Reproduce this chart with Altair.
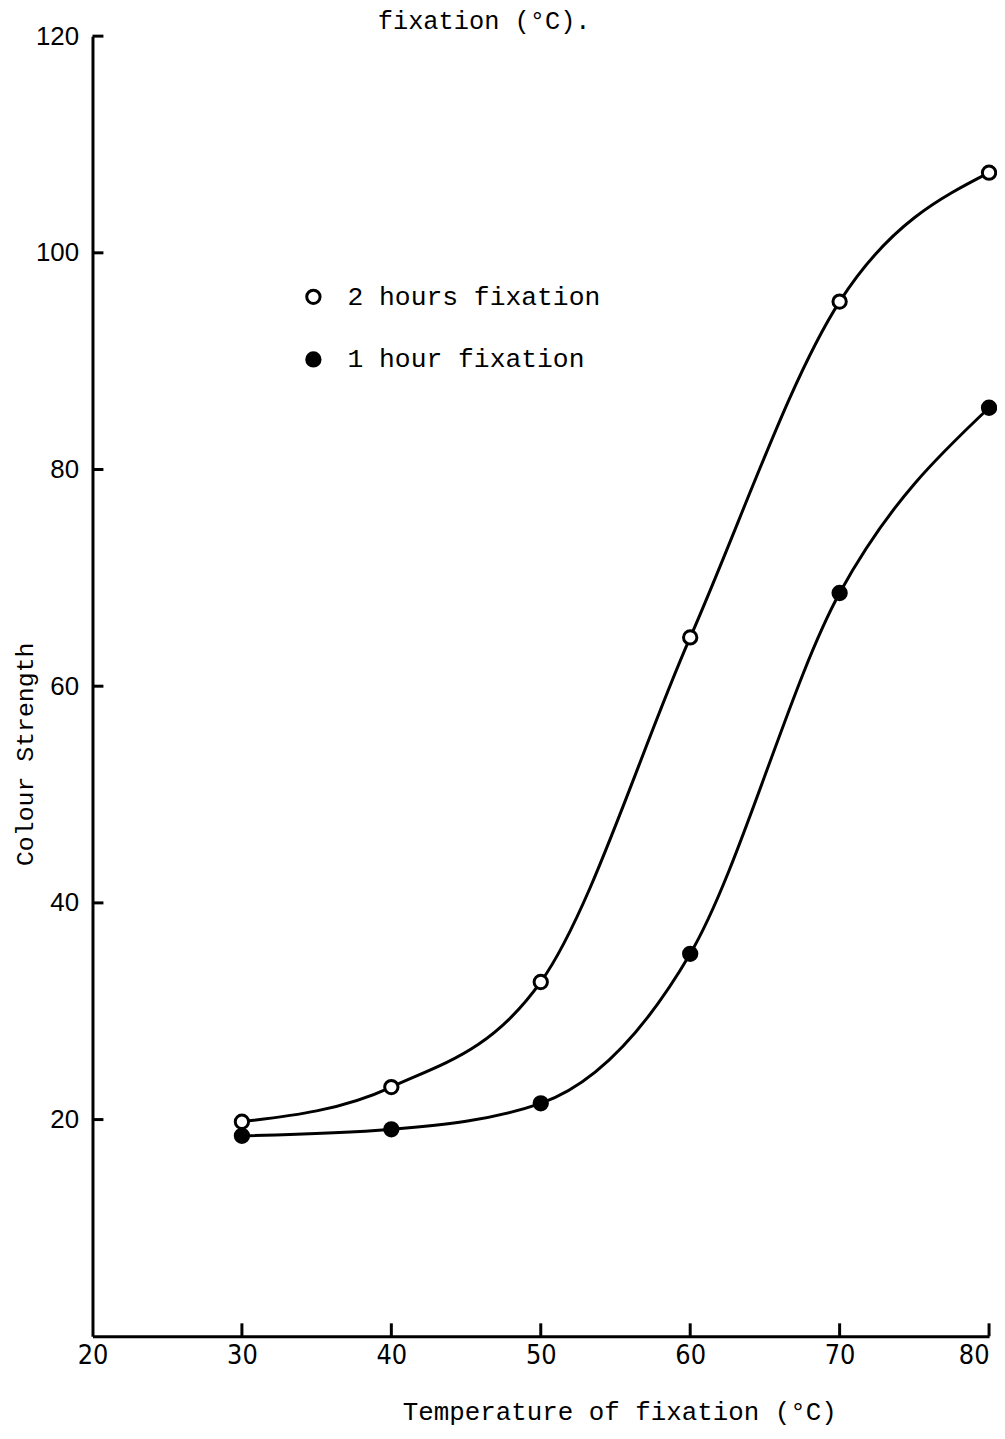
import altair as alt
import pandas as pd

# ---- data ----
temps = [30, 40, 50, 60, 70, 80]
two_hours = [19.8, 23.0, 32.7, 64.5, 95.5, 107.4]
one_hour = [18.5, 19.1, 21.5, 35.3, 68.6, 85.7]
series_names = ["2 hours fixation", "1 hour fixation"]
x_tick_labels = [20, 30, 40, 50, 60, 70, 80]
x_tick_marks = [30, 40, 50, 60, 70, 80]
y_tick_labels = [20, 40, 60, 80, 100, 120]

rows = []
for t, v in zip(temps, two_hours):
    rows.append({"temp": t, "strength": v, "series": series_names[0]})
for t, v in zip(temps, one_hour):
    rows.append({"temp": t, "strength": v, "series": series_names[1]})
df = pd.DataFrame(rows)
xt = pd.DataFrame({"temp": x_tick_marks})
yt = pd.DataFrame({"strength": y_tick_labels})

W, H = 902, 1308
MONO = "Liberation Mono"

x_scale = alt.Scale(domain=[20, 80], nice=False, zero=False)
y_scale = alt.Scale(domain=[0, 120], nice=False, zero=True)

x_axis = alt.Axis(
    values=x_tick_labels, ticks=False, grid=False,
    domainColor="black", domainWidth=3,
    labelFont="DejaVu Sans Condensed, Liberation Sans, sans-serif",
    labelFontSize=27, labelColor="black", labelFlush=False,
    labelAlign={"condition": {"test": "datum.value == 80", "value": "right"},
                "value": "center"},
    labelPadding=6,
    title="Temperature of fixation (°C)", titleFont=MONO, titleFontSize=26,
    titleFontWeight="normal", titleColor="black",
    titleX=530, titleY=76, titleAlign="center", titleBaseline="middle",
)
y_axis = alt.Axis(
    values=y_tick_labels, ticks=False, grid=False,
    domainColor="black", domainWidth=3,
    labelFont="Liberation Sans", labelFontSize=26, labelColor="black",
    labelPadding=14, labelFlush=False,
    title="Colour Strength", titleFont=MONO, titleFontSize=25,
    titleFontWeight="normal", titleColor="black",
    titleX=-68, titleY=722, titleAlign="center", titleBaseline="middle",
)

X = alt.X("temp:Q", scale=x_scale, axis=x_axis)
Y = alt.Y("strength:Q", scale=y_scale, axis=y_axis)

lines = alt.Chart(df).mark_line(
    interpolate="monotone", color="black", strokeWidth=3
).encode(x=X, y=Y, detail="series:N")

points = alt.Chart(df).mark_point(
    shape="circle", filled=True, stroke="black", strokeWidth=3, size=180, opacity=1
).encode(
    x=X,
    y=Y,
    fill=alt.Fill(
        "series:N",
        scale=alt.Scale(domain=series_names, range=["white", "black"]),
        legend=alt.Legend(
            title=None, orient="none", legendX=209, legendY=249,
            labelFont=MONO, labelFontSize=26.5, labelColor="black", labelLimit=0,
            symbolType="circle", symbolSize=180, symbolStrokeColor="black",
            symbolStrokeWidth=3, labelOffset=21, rowPadding=36, padding=0,
        ),
    ),
)

x_ticks = alt.Chart(xt).mark_rule(color="black", strokeWidth=3).encode(
    x=X,
    y=alt.value(H),
    y2=alt.value(H - 13),
)
y_ticks = alt.Chart(yt).mark_rule(color="black", strokeWidth=3).encode(
    y=Y,
    x=alt.value(0),
    x2=alt.value(11),
)

chart = alt.layer(lines, x_ticks, y_ticks, points).properties(
    width=W, height=H,
    title=alt.TitleParams(
        "fixation (°C).", anchor="start", frame="group", dx=287, offset=-31,
        baseline="alphabetic", font=MONO, fontSize=25.5, fontWeight="normal",
        color="black",
    ),
    autosize=alt.AutoSizeParams(type="none"),
    padding={"left": 85, "top": 24, "right": 8, "bottom": 90},
).configure_view(stroke=None)

chart.save("out.html", embed_options={"renderer": "svg", "actions": False})
